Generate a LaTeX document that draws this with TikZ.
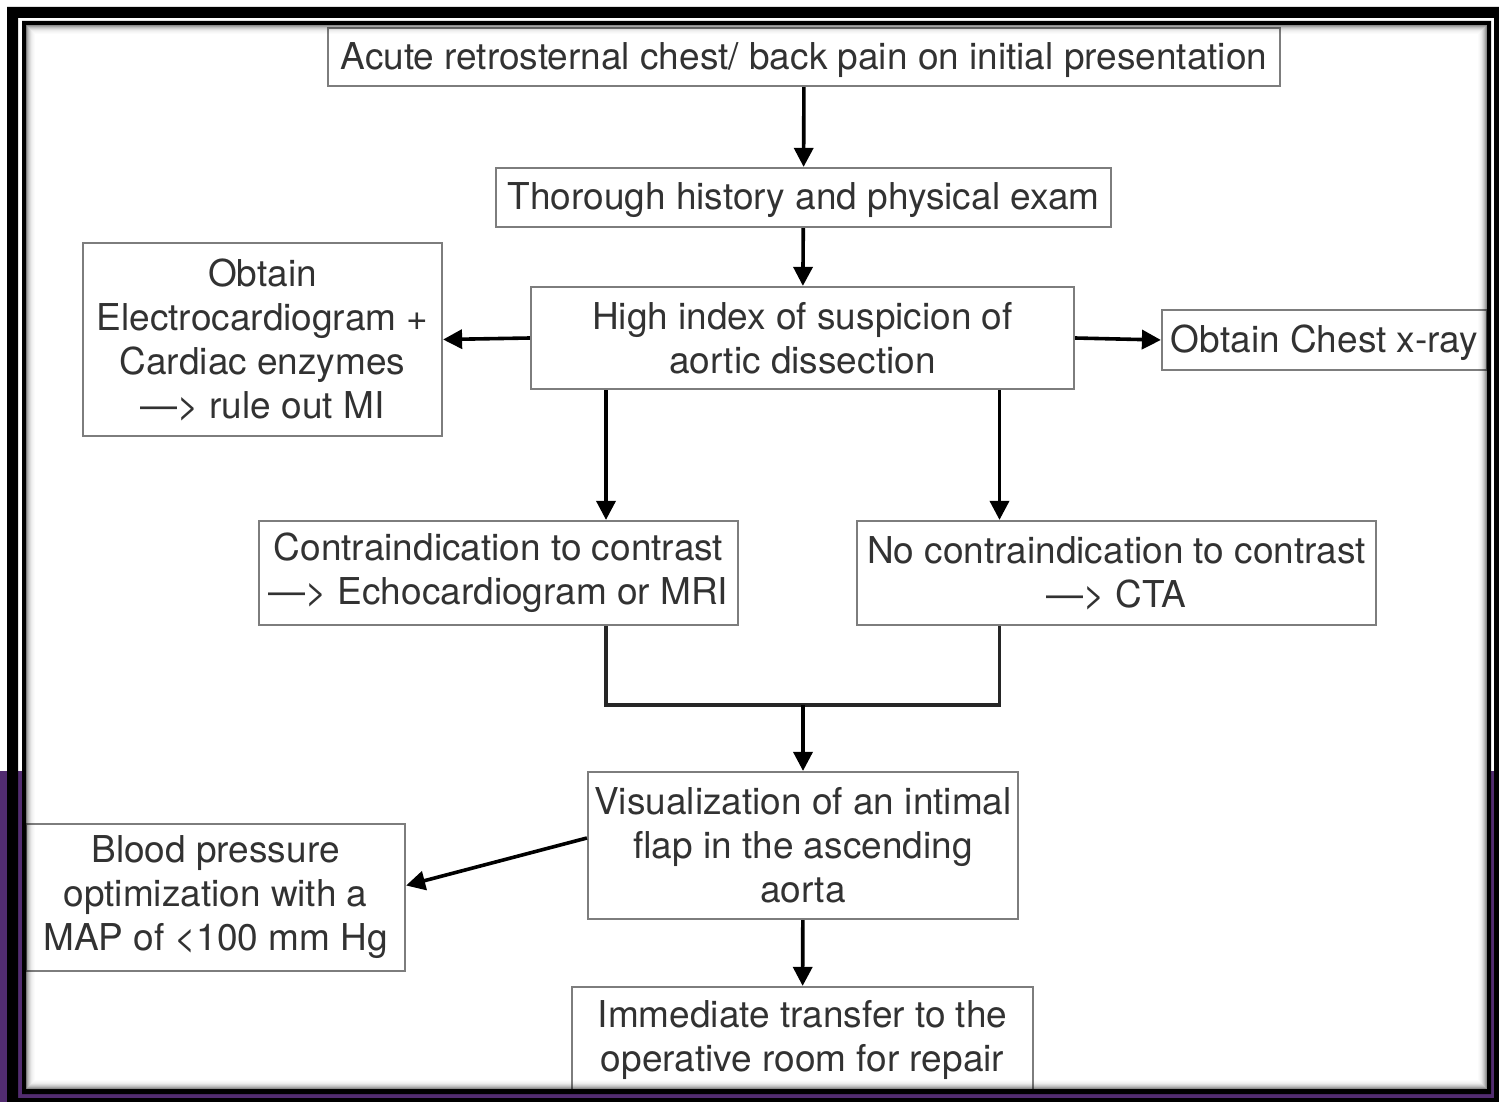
\documentclass[tikz,border=0pt]{standalone}
\usepackage{fontspec}
\setmainfont{TeX Gyre Heros}
\usetikzlibrary{arrows.meta,calc}
\definecolor{bgpurple}{RGB}{82,44,112}
\definecolor{boxline}{RGB}{125,125,125}
\definecolor{txt}{RGB}{50,50,50}
\tikzset{
  fbox/.style={draw=boxline, line width=2.2pt, fill=white, inner sep=0pt, align=center,
    text=txt, font=\fontsize{37}{44}\selectfont,
    execute at begin node={\rule{0pt}{33pt}}},
  arr/.style={draw=black, line width=3.6pt, -{Triangle[length=19pt,width=19pt]}},
  conn/.style={draw=black!85, line width=3.2pt}
}
\begin{document}
\begin{tikzpicture}[x=1pt,y=-1pt]
\useasboundingbox (0,0) rectangle (1499,1102);
\fill[white] (0,0) rectangle (1499,1102);
\fill[bgpurple] (0,771) rectangle (1499,1102);
\fill[white] (26,25) rectangle (1487,1089);

% nodes
\node[fbox, minimum width=952pt, minimum height=58pt] (n1) at (804,57) {Acute retrosternal chest/ back pain on initial presentation};
\node[fbox, minimum width=615pt, minimum height=59pt] (n2) at (803.5,197.5) {Thorough history and physical exam};
\node[fbox, minimum width=543pt, minimum height=102pt] (n3) at (802.5,338) {High index of suspicion of\\aortic dissection};
\node[fbox, minimum width=359pt, minimum height=193pt] (n4) at (262.5,339.5) {Obtain\\Electrocardiogram +\\Cardiac enzymes\\—> rule out MI};
\node[fbox, minimum width=325pt, minimum height=60pt] (n5) at (1324.5,340) {Obtain Chest x-ray};
\node[fbox, minimum width=479pt, minimum height=104pt] (n6) at (498.5,573) {Contraindication to contrast\\—> Echocardiogram or MRI};
\node[fbox, minimum width=519pt, minimum height=104pt] (n7) at (1116.5,573) {No contraindication to contrast\\—> CTA};
\node[fbox, minimum width=430pt, minimum height=147pt] (n8) at (803,845.5) {Visualization of an intimal\\flap in the ascending\\aorta};
\node[fbox, minimum width=379pt, minimum height=147pt] (n9) at (215.5,897.5) {Blood pressure\\optimization with a\\MAP of <100 mm Hg};
\node[fbox, minimum width=461pt, minimum height=106pt] (n10) at (802.5,1040) {Immediate transfer to the\\operative room for repair};

% lanes
\coordinate (c6) at (606,0);
\coordinate (c7) at (999.5,0);
\coordinate (j) at (803,705);

% connectors
\draw[arr] (n1) -- (n2);
\draw[arr] (n2) -- (n3);
\draw[arr] (n3.west) -- (n4.east);
\draw[arr] (n3.east) -- (n5.west);
\draw[arr] (c6 |- n3.south) -- (c6 |- n6.north);
\draw[arr] (c7 |- n3.south) -- (c7 |- n7.north);
\draw[conn] (c6 |- n6.south) -- (c6 |- j) -- (c7 |- j) -- (c7 |- n7.south);
\draw[arr] (j) -- (n8.north);
\draw[arr] ($(n8.west)+(0,-7.5)$) -- ($(n9.east)+(0,-12)$);
\draw[arr] (n8) -- (n10);

% inner shadow
\foreach \i/\o in {0.5/0.45,1.5/0.35,2.5/0.26,3.5/0.19,4.5/0.13,5.5/0.08,6.5/0.05,7.5/0.03,8.5/0.015}
  \draw[black, opacity=\o, line width=1pt] ({26+\i},{25+\i}) rectangle ({1487-\i},{1089-\i});

% frame
\fill[black, even odd rule] (7,7) rectangle (1499,1102) (18,18) rectangle (1494,1098);
\fill[black, even odd rule] (22,21) rectangle (1491,1094) (26,25) rectangle (1487,1089);
\fill[bgpurple] (0,771) rectangle (7,1102);
\end{tikzpicture}
\end{document}
